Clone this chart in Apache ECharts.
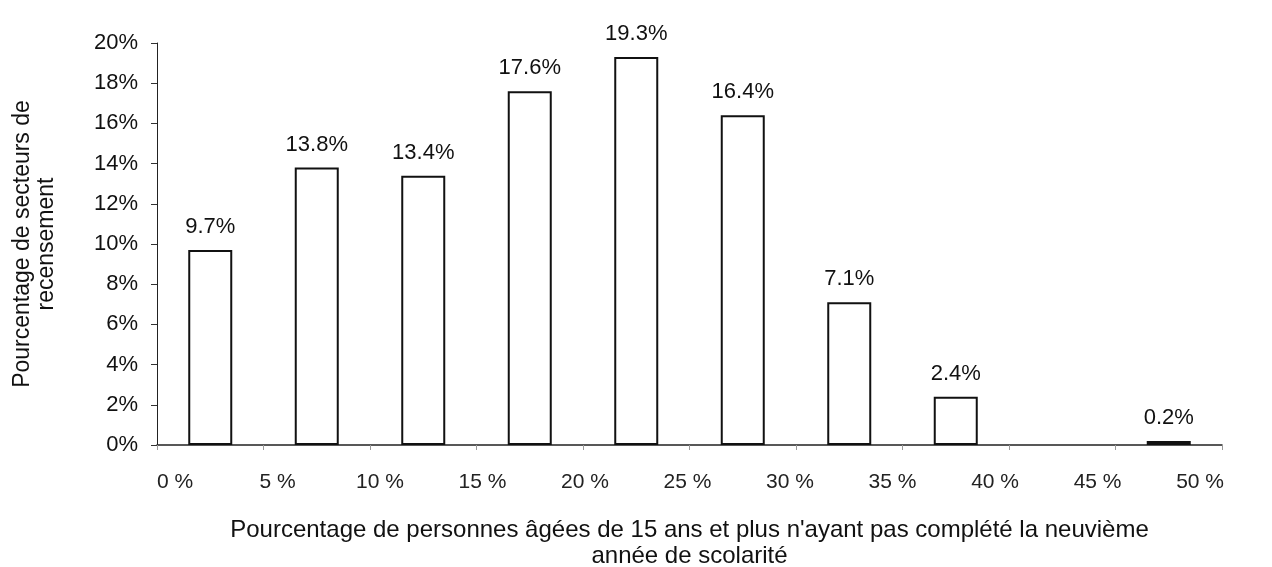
<!DOCTYPE html>
<html>
<head>
<meta charset="utf-8">
<script src="https://cdn.jsdelivr.net/npm/echarts@6/dist/echarts.min.js"></script>
<style>
html,body{margin:0;padding:0;background:#fff;}
#chart{width:1272px;height:567px;}
</style>
</head>
<body>
<div id="chart"></div>
<script>
var categories = ['0-5', '5-10', '10-15', '15-20', '20-25', '25-30', '30-35', '35-40', '40-45', '45-50'];
var values = [9.7, 13.8, 13.4, 17.6, 19.3, 16.4, 7.1, 2.4, 0, 0.2];
var xTickValues = [0, 5, 10, 15, 20, 25, 30, 35, 40, 45, 50];
var yTitle = 'Pourcentage de secteurs de\nrecensement';
var xTitle = "Pourcentage de personnes âgées de 15 ans et plus n'ayant pas complété la neuvième\nannée de scolarité";

var chart = echarts.init(document.getElementById('chart'));
var font = 'Liberation Sans, Arial, sans-serif';

var barData = values.map(function (v) {
  return v > 0 ? v : { value: v, itemStyle: { borderWidth: 0 } };
});

chart.setOption({
  animation: false,
  backgroundColor: '#fff',
  grid: { left: 157, right: 50, top: 43, bottom: 122, outerBoundsMode: 'none', containLabel: false },
  xAxis: [
    {
      type: 'category',
      data: categories,
      show: false
    },
    {
      type: 'value',
      min: 0, max: 50, interval: 5,
      position: 'bottom',
      axisLine: { show: true, lineStyle: { color: '#222', width: 1.5 } },
      axisTick: { show: true, length: 5, lineStyle: { color: '#999' } },
      splitLine: { show: false },
      axisLabel: { show: false },
      name: xTitle,
      nameLocation: 'middle',
      nameGap: 72,
      nameTextStyle: { fontFamily: font, fontSize: 24, color: '#111', lineHeight: 26 }
    },
    {
      type: 'value',
      min: -0.88, max: 51.07,
      position: 'bottom',
      axisLine: { show: false },
      axisTick: { show: false },
      splitLine: { show: false },
      axisLabel: {
        customValues: xTickValues,
        formatter: function (v) { return v + ' %'; },
        margin: 27,
        fontFamily: font,
        fontSize: 21,
        color: '#222'
      }
    }
  ],
  yAxis: {
    type: 'value',
    min: 0, max: 20, interval: 2,
    axisLine: { show: true, lineStyle: { color: '#222', width: 1 } },
    axisTick: { show: true, length: 6, lineStyle: { color: '#333' } },
    splitLine: { show: false },
    axisLabel: {
      formatter: '{value}%',
      margin: 19,
      fontFamily: font,
      fontSize: 22,
      color: '#111'
    },
    name: yTitle,
    nameLocation: 'middle',
    nameGap: 98,
    nameTextStyle: { fontFamily: font, fontSize: 23, color: '#111', lineHeight: 24 }
  },
  series: [{
    type: 'bar',
    xAxisIndex: 0,
    data: barData,
    barWidth: 44,
    itemStyle: { color: '#fff', borderColor: '#111', borderWidth: 2 },
    label: {
      show: true,
      position: 'top',
      distance: 12,
      fontFamily: font,
      fontSize: 22,
      color: '#111',
      formatter: function (p) { return p.value > 0 ? p.value.toFixed(1) + '%' : ''; }
    }
  }]
});
</script>
</body>
</html>
